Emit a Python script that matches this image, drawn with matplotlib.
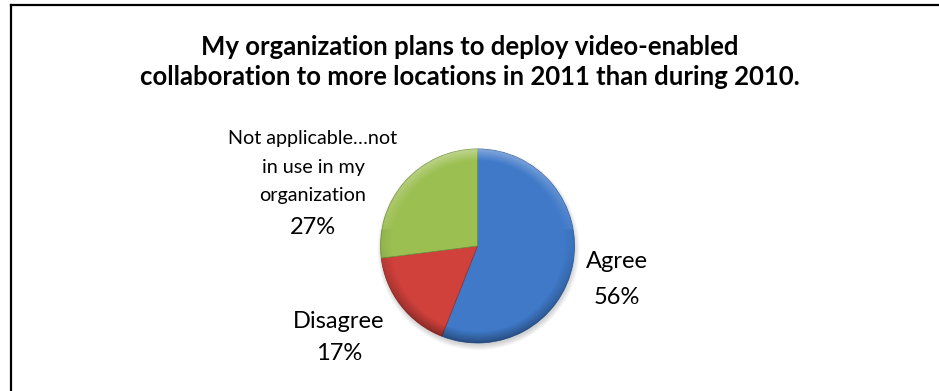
import numpy as np
import matplotlib.pyplot as plt
from matplotlib.lines import Line2D
from matplotlib.patches import Circle

# survey answers, percent
labels = ['Agree', 'Disagree', 'Not applicable\u2026not\nin use in my\norganization']
shares = [56, 17, 27]
colors = ['#3f79c8', '#d0413c', '#9cbf52']
edges = ['#30609f', '#a02f2b', '#74923a']

title = ('My organization plans to deploy video-enabled\n'
         'collaboration to more locations in 2011 than during 2010.')

W, H = 939, 391
fig = plt.figure(figsize=(W / 100, H / 100), dpi=100)
ax = fig.add_axes([0, 0, 1, 1])

# frame: only top and left edges show
fig.add_artist(Line2D([11 / W, 11 / W], [0, 1 - 5 / H], color='black', lw=1.6,
                      transform=fig.transFigure))
fig.add_artist(Line2D([11 / W, 1], [1 - 5 / H, 1 - 5 / H], color='black', lw=1.6,
                      transform=fig.transFigure))

fig.text(0.5, 1 - 62 / H, title, ha='center', va='center', fontsize=18.5,
         fontweight='bold', family='Lato', linespacing=1.3)

cx, cy, r = 477.5, H - 246, 97

# soft shadow under the pie
for k in range(6):
    ax.add_patch(Circle((cx + 1, cy - 3), r + 4 - k, color='black', alpha=0.03,
                        lw=0, zorder=1))

wedges, _ = ax.pie(shares, colors=colors, startangle=90, counterclock=False,
                   center=(cx, cy), radius=r, frame=True,
                   wedgeprops=dict(lw=0.6, zorder=2))
for w, ec in zip(wedges, edges):
    w.set_edgecolor(ec)

# shading: light rim on top, darker rim at the bottom
yy, xx = np.mgrid[1:-1:300j, -1:1:300j]
rr = np.hypot(xx, yy)
rim = np.clip((rr - 0.88) / 0.12, 0, 1)
light = rim * np.clip(yy, 0, None) * 0.35
dark = rim * np.clip(-yy, 0, None) * 0.3 + rim * 0.06
shade = np.zeros((300, 300, 4))
shade[..., :3] = np.where((light > dark)[..., None], 1.0, 0.0)
shade[..., 3] = np.maximum(light, dark)
im = ax.imshow(shade, extent=(cx - r, cx + r, cy - r, cy + r), origin='upper',
               zorder=3, interpolation='bilinear')
im.set_clip_path(Circle((cx, cy), r, transform=ax.transData))

ax.set_xlim(0, W)
ax.set_ylim(0, H)
ax.set_aspect('equal')
ax.axis('off')

font = 'Lato'
big = 17
ax.text(617, H - 262, labels[0], ha='center', va='center', fontsize=big, family=font)
ax.text(617, H - 297, f'{shares[0]}%', ha='center', va='center', fontsize=big, family=font)
ax.text(339, H - 322, labels[1], ha='center', va='center', fontsize=big, family=font)
ax.text(339, H - 353, f'{shares[1]}%', ha='center', va='center', fontsize=big, family=font)
ax.text(313, H - 167, labels[2], ha='center', va='center', fontsize=14.2,
        family=font, linespacing=1.85)
ax.text(313, H - 227, f'{shares[2]}%', ha='center', va='center', fontsize=big, family=font)

fig.savefig('out.png', dpi=100)
